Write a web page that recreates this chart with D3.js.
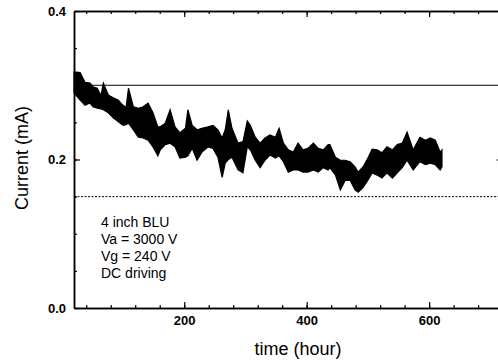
<!DOCTYPE html>
<html>
<head>
<meta charset="utf-8">
<script src="https://cdn.jsdelivr.net/npm/d3@7"></script>
<style>
  body { margin: 0; background: white; }
  svg { display: block; font-family: "Liberation Sans", Arial, sans-serif; }
</style>
</head>
<body>
<div id="chart"></div>
<script>
var hours = [20, 30, 38, 46, 51, 58, 64, 68, 76, 84, 92, 100, 105, 109, 117, 125, 133, 141, 149, 157,
  161, 169, 177, 185, 193, 202, 206, 213, 221, 229, 239, 247, 255, 262, 267, 272, 278, 288, 296, 303,
  308, 316, 324, 332, 340, 349, 355, 362, 370, 378, 386, 394, 402, 411, 419, 427, 435, 438, 447, 455,
  463, 471, 479, 484, 492, 500, 507, 515, 523, 531, 540, 548, 556, 564, 574, 585, 594, 602, 610, 618, 621];
var upper = [.318, .317, .304, .303, .298, .296, .286, .303, .287, .283, .280, .273, .270, .296, .271, .269, .271, .276, .263, .244,
  .244, .249, .267, .244, .236, .242, .267, .246, .240, .242, .244, .246, .240, .229, .240, .267, .242, .222, .224, .252,
  .246, .230, .222, .229, .233, .230, .242, .222, .213, .210, .222, .213, .215, .222, .215, .213, .220, .220, .203, .199,
  .199, .197, .190, .183, .190, .202, .214, .213, .209, .217, .213, .220, .222, .237, .213, .230, .226, .229, .226, .210, .213];
var lower = [.290, .280, .273, .276, .271, .269, .268, .267, .263, .256, .251, .246, .247, .249, .240, .230, .229, .226, .217, .205,
  .213, .220, .222, .217, .202, .203, .205, .215, .199, .210, .217, .215, .203, .176, .195, .200, .203, .186, .182, .217,
  .213, .199, .189, .199, .206, .202, .205, .197, .183, .186, .186, .183, .183, .186, .183, .189, .186, .189, .179, .159,
  .172, .172, .159, .156, .162, .172, .182, .179, .175, .182, .175, .182, .189, .199, .186, .197, .193, .195, .193, .186, .190];

var refSolid = 0.3;
var refDotted = 0.15;

var xMajor = [200, 400, 600];
var xMinor = d3.range(40, 720, 40);
var yMajor = [0, 0.2, 0.4];
var yMajorLabels = ["0.0", "0.2", "0.4"];
var yMinor = d3.range(0.05, 0.4, 0.05);

var notes = ["4 inch BLU", "Va = 3000 V", "Vg = 240 V", "DC driving"];

var width = 498, height = 361;
var plotLeft = 74, plotTop = 11, plotBottom = 308, plotRight = 502.6;

var svg = d3.select("#chart").append("svg")
  .attr("width", width)
  .attr("height", height);

var x = d3.scaleLinear().domain([20, 720]).range([plotLeft, plotRight]);
var y = d3.scaleLinear().domain([0, 0.4]).range([plotBottom, plotTop]);

// reference levels
svg.append("line")
  .attr("x1", plotLeft).attr("x2", plotRight)
  .attr("y1", y(refSolid)).attr("y2", y(refSolid))
  .attr("stroke", "black").attr("stroke-width", 1);
svg.append("line")
  .attr("x1", plotLeft).attr("x2", plotRight)
  .attr("y1", y(refDotted)).attr("y2", y(refDotted))
  .attr("stroke", "black").attr("stroke-width", 1)
  .attr("stroke-dasharray", "2,1.5");

// noisy trace as a filled band
var data = hours.map(function(h, i) { return {t: h, hi: upper[i], lo: lower[i]}; });

var band = d3.area()
  .x(function(d) { return x(d.t); })
  .y0(function(d) { return y(d.lo); })
  .y1(function(d) { return y(d.hi); });

svg.append("path")
  .datum(data)
  .attr("d", band)
  .attr("fill", "black")
  .attr("stroke", "black")
  .attr("stroke-width", 1.2)
  .attr("stroke-linejoin", "miter");

// frame + ticks (all pointing inward)
function styleAxis(g) {
  g.select(".domain").attr("stroke-width", 1.5);
  g.selectAll("line").attr("stroke-width", 1.2);
}

svg.append("g")
  .attr("transform", "translate(0," + plotBottom + ")")
  .call(d3.axisBottom(x).tickValues(xMinor).tickSize(-3).tickFormat("").tickSizeOuter(0))
  .call(styleAxis);
var xb = svg.append("g")
  .attr("transform", "translate(0," + plotBottom + ")")
  .call(d3.axisBottom(x).tickValues(xMajor).tickSize(-6).tickPadding(8).tickSizeOuter(0))
  .call(styleAxis);
xb.selectAll("text")
  .attr("font-size", 13).attr("font-weight", "bold").attr("fill", "black")
  .attr("font-family", "Liberation Sans, Arial, sans-serif");

svg.append("g")
  .attr("transform", "translate(0," + plotTop + ")")
  .call(d3.axisTop(x).tickValues(xMinor).tickSize(-3).tickFormat("").tickSizeOuter(0))
  .call(styleAxis);
svg.append("g")
  .attr("transform", "translate(0," + plotTop + ")")
  .call(d3.axisTop(x).tickValues(xMajor).tickSize(-6).tickFormat("").tickSizeOuter(0))
  .call(styleAxis);

svg.append("g")
  .attr("transform", "translate(" + plotLeft + ",0)")
  .call(d3.axisLeft(y).tickValues(yMinor).tickSize(-3).tickFormat("").tickSizeOuter(0))
  .call(styleAxis);
var yl = svg.append("g")
  .attr("transform", "translate(" + plotLeft + ",0)")
  .call(d3.axisLeft(y).tickValues(yMajor).tickSize(-6).tickPadding(8).tickSizeOuter(0)
    .tickFormat(function(d, i) { return yMajorLabels[i]; }))
  .call(styleAxis);
yl.selectAll("text")
  .attr("font-size", 13).attr("font-weight", "bold").attr("fill", "black")
  .attr("font-family", "Liberation Sans, Arial, sans-serif");

svg.append("g")
  .attr("transform", "translate(" + plotRight + ",0)")
  .call(d3.axisRight(y).tickValues(yMajor).tickSize(-6).tickFormat("").tickSizeOuter(0))
  .call(styleAxis);

// axis titles
svg.append("text")
  .attr("x", 298).attr("y", 355)
  .attr("text-anchor", "middle")
  .attr("font-size", 18)
  .text("time (hour)");

svg.append("text")
  .attr("transform", "translate(28,158) rotate(-90)")
  .attr("text-anchor", "middle")
  .attr("font-size", 18)
  .text("Current (mA)");

// annotation
svg.selectAll(".note")
  .data(notes)
  .enter().append("text")
  .attr("class", "note")
  .attr("x", 101)
  .attr("y", function(d, i) { return 227 + i * 17; })
  .attr("font-size", 14)
  .text(function(d) { return d; });
</script>
</body>
</html>
